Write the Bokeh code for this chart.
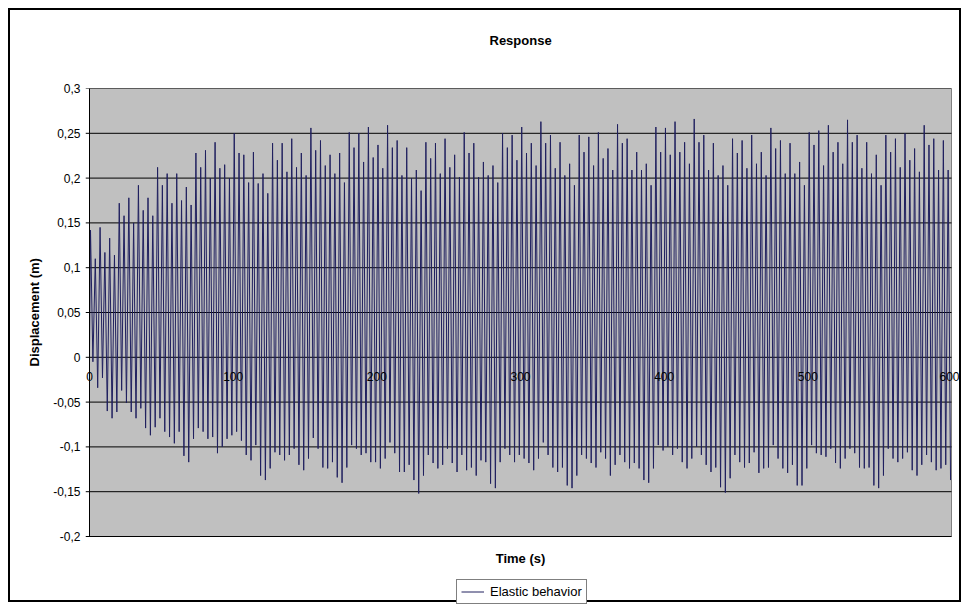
from bokeh.plotting import figure
from bokeh.models import (LinearAxis, FixedTicker, CustomJSTickFormatter, Legend,
                          LegendItem, Range1d, Title, Label)
from bokeh.embed import file_html
from bokeh.resources import INLINE

# ---------------- data ----------------
SERIES_NAME = "Elastic behavior"
PERIOD = 3.335          # s, spacing of successive peaks
FIRST_PEAK_T = 0.7      # s
START_Y = 0.01          # m, displacement at t = 0

peaks = [
    0.142, 0.110, 0.145, 0.117, 0.133, 0.114, 0.172, 0.158, 0.178, 0.150,
    0.192, 0.164, 0.178, 0.158, 0.212, 0.192, 0.205, 0.172, 0.205, 0.175,
    0.190, 0.170, 0.228, 0.212, 0.231, 0.200, 0.240, 0.211, 0.215,
    0.200, 0.250, 0.228, 0.226, 0.195, 0.229, 0.194, 0.205, 0.183, 0.239,
    0.220, 0.239, 0.207, 0.244, 0.212, 0.228, 0.203, 0.256, 0.231, 0.242,
    0.214, 0.226, 0.205, 0.228, 0.195, 0.251, 0.234, 0.250, 0.218, 0.257,
    0.223, 0.237, 0.211, 0.259, 0.234, 0.242, 0.203, 0.234, 0.200, 0.209,
    0.186, 0.240, 0.222, 0.239, 0.205, 0.244, 0.212, 0.226, 0.201, 0.251,
    0.228, 0.239, 0.201, 0.218, 0.203, 0.214, 0.195, 0.250, 0.234, 0.248,
    0.220,
    0.257, 0.228, 0.239, 0.214, 0.263, 0.239, 0.248, 0.211, 0.240, 0.203,
    0.216, 0.192, 0.248, 0.229, 0.246, 0.214, 0.251, 0.222, 0.233, 0.209,
    0.260, 0.239, 0.244, 0.209, 0.229, 0.209, 0.216, 0.192, 0.257, 0.229,
    0.256, 0.226, 0.263, 0.229, 0.240, 0.216, 0.266, 0.240, 0.248, 0.209,
    0.239, 0.203, 0.214, 0.192, 0.244, 0.228, 0.242, 0.211, 0.248, 0.216,
    0.229, 0.203, 0.256, 0.233, 0.242, 0.205, 0.239, 0.205, 0.218, 0.192,
    0.251, 0.237, 0.253, 0.214, 0.259, 0.229, 0.240, 0.216, 0.265, 0.240,
    0.248, 0.211, 0.240, 0.205, 0.226, 0.192, 0.248, 0.229, 0.244, 0.212,
    0.250, 0.220, 0.233, 0.207, 0.259, 0.237, 0.244, 0.209, 0.242, 0.209,
]

troughs = [
    -0.005, -0.034, -0.023, -0.060, -0.068, -0.061, -0.037, -0.051, -0.061, -0.068,
    -0.057, -0.079, -0.087, -0.078, -0.068, -0.083, -0.089, -0.096, -0.083, -0.110,
    -0.117, -0.091, -0.079, -0.083, -0.091, -0.089, -0.107, -0.100, -0.091,
    -0.087, -0.083, -0.093, -0.109, -0.115, -0.098, -0.132, -0.137, -0.124, -0.106,
    -0.109, -0.115, -0.109, -0.102, -0.120, -0.126, -0.113, -0.090, -0.102, -0.123,
    -0.124, -0.117, -0.134, -0.140, -0.123, -0.098, -0.102, -0.109, -0.107, -0.117,
    -0.117, -0.124, -0.113, -0.095, -0.107, -0.128, -0.128, -0.120, -0.137, -0.152,
    -0.132, -0.109, -0.118, -0.124, -0.120, -0.102, -0.118, -0.128, -0.109, -0.126,
    -0.123, -0.132, -0.115, -0.117, -0.141, -0.146, -0.117, -0.102, -0.109, -0.117,
    -0.109, -0.113, -0.118, -0.126, -0.113, -0.095, -0.109, -0.123, -0.128, -0.123,
    -0.143, -0.146, -0.132, -0.109, -0.113, -0.118, -0.123, -0.106, -0.113, -0.132,
    -0.120, -0.109, -0.117, -0.124, -0.118, -0.124, -0.137, -0.140, -0.124, -0.098,
    -0.104, -0.100, -0.109, -0.102, -0.117, -0.124, -0.113, -0.100, -0.109, -0.120,
    -0.128, -0.123, -0.145, -0.151, -0.135, -0.109, -0.117, -0.123, -0.118, -0.106,
    -0.129, -0.124, -0.123, -0.098, -0.113, -0.124, -0.129, -0.120, -0.143, -0.143,
    -0.124, -0.098, -0.107, -0.109, -0.111, -0.102, -0.118, -0.124, -0.113, -0.102,
    -0.107, -0.123, -0.124, -0.123, -0.143, -0.146, -0.132, -0.102, -0.113, -0.117,
    -0.113, -0.106, -0.126, -0.132, -0.120, -0.109, -0.117, -0.126, -0.124, -0.120,
    -0.137,
]

x_ticks = [0, 100, 200, 300, 400, 500, 600]
y_ticks = [-0.2, -0.15, -0.1, -0.05, 0, 0.05, 0.1, 0.15, 0.2, 0.25, 0.3]

# ---------------- build the time series from the extrema ----------------
t = [0.0]
y = [START_Y]
for i, (pk, tr) in enumerate(zip(peaks, troughs)):
    tp = FIRST_PEAK_T + i * PERIOD
    t.extend([tp, tp + PERIOD / 2])
    y.extend([pk, tr])

# ---------------- layout ----------------
FONT = "Liberation Sans"
X_MIN, X_MAX = x_ticks[0], x_ticks[-1]
Y_MIN, Y_MAX = y_ticks[0], y_ticks[-1]
AREA_W_PX, AREA_H_PX = 862, 448   # size of the grey plot area
PAD_L_PX, PAD_R_PX = 4, 12        # room in the frame for tick marks / edge labels
PAD_B_PX = 68                     # room under the plot area: axis title + legend
px_per_s = AREA_W_PX / (X_MAX - X_MIN)
px_per_m = AREA_H_PX / (Y_MAX - Y_MIN)
x_start = X_MIN - PAD_L_PX / px_per_s
x_end = X_MAX + PAD_R_PX / px_per_s
y_start = Y_MIN - PAD_B_PX / px_per_m

p = figure(width=953, height=594, output_backend="svg", toolbar_location=None,
           title=None,
           x_range=Range1d(x_start, x_end), y_range=Range1d(y_start, Y_MAX),
           x_axis_location=None,
           min_border_left=75, min_border_right=0,
           min_border_top=78, min_border_bottom=0,
           background_fill_color="white", border_fill_color="white",
           outline_line_color=None)
p.styles = {"border": "2px solid black", "margin-left": "8px", "margin-top": "8px"}
p.xgrid.visible = False
p.ygrid.visible = False

# titles above: spacer first (next to plot), then the real title
p.add_layout(Title(text=" ", text_font_size="1px", standoff=38), "above")
p.add_layout(Title(text="Response", align="left", offset=404, standoff=0,
                   text_font=FONT, text_font_size="13px",
                   text_font_style="bold", text_color="black"), "above")

# y axis (labels only; tick marks come from the grid segments)
ya = p.yaxis[0]
ya.ticker = FixedTicker(ticks=y_ticks)
ya.formatter = CustomJSTickFormatter(code="""
    let s = tick.toFixed(2).replace(/0+$/, '').replace(/\\.$/, '');
    if (s === '-0') { s = '0'; }
    return s.replace('.', ',');
""")
ya.major_label_text_font = FONT
ya.major_label_text_font_size = "12px"
ya.major_label_text_color = "black"
ya.major_tick_out = 0
ya.major_tick_in = 0
ya.minor_tick_out = 0
ya.minor_tick_in = 0
ya.major_label_standoff = 5
ya.axis_line_color = None

# y axis title, centred on the grey plot area
p.add_layout(Title(text="Displacement (m)", align="left", offset=238, standoff=17,
                   text_font=FONT, text_font_size="13px",
                   text_font_style="bold", text_color="black"), "left")

# x axis drawn along y = 0 (labels only)
xa = LinearAxis(fixed_location=0, ticker=FixedTicker(ticks=x_ticks))
xa.major_tick_out = 0
xa.major_tick_in = 0
xa.minor_tick_out = 0
xa.minor_tick_in = 0
xa.axis_line_color = None
xa.major_label_text_font = FONT
xa.major_label_text_font_size = "12px"
xa.major_label_text_color = "black"
xa.major_label_standoff = 15
p.add_layout(xa, "below")

# grey plot area, grid lines (with the little tick marks), data, y axis line
p.quad(left=[X_MIN], right=[X_MAX], bottom=[Y_MIN], top=[Y_MAX],
       fill_color="#C0C0C0", line_color="#808080", line_width=1)
p.segment(x0=[x_start] * len(y_ticks), x1=[X_MAX] * len(y_ticks),
          y0=y_ticks, y1=y_ticks, line_color="black", line_width=1)
r = p.line(t, y, line_color="#20205f", line_width=1)
p.segment(x0=[X_MIN], x1=[X_MIN], y0=[Y_MIN], y1=[Y_MAX],
          line_color="black", line_width=1)

# x axis title under the grey area
p.add_layout(Label(x=(X_MIN + X_MAX) / 2, y=Y_MIN, y_offset=-22,
                   text="Time (s)", text_align="center", text_baseline="middle",
                   text_font=FONT, text_font_size="13px",
                   text_font_style="bold", text_color="black"))

legend = Legend(items=[LegendItem(label=SERIES_NAME, renderers=[r])],
                location=(371, 0.5), border_line_color="black",
                border_line_width=1, background_fill_color="white",
                background_fill_alpha=1, padding=4, spacing=0, margin=0,
                label_standoff=6, glyph_width=23, glyph_height=13,
                label_height=13, label_text_font=FONT,
                label_text_font_size="13px", label_text_color="black")
p.add_layout(legend)

open("out.html", "w").write(file_html(p, INLINE))
